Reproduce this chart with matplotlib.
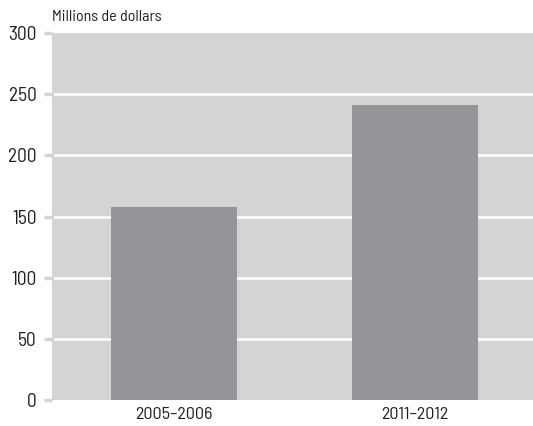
import matplotlib
matplotlib.use('Agg')
import matplotlib.pyplot as plt

periods = ['2005-2006', '2011-2012']
amounts = [158, 241]
yticks = [0, 50, 100, 150, 200, 250, 300]

plt.rcParams['font.family'] = ['Barlow Semi Condensed', 'DejaVu Sans']

BG = '#d3d4d6'
BAR = '#939598'
TXT = '#231f20'

fig = plt.figure(figsize=(5.33, 4.26), dpi=100)
ax = fig.add_axes([0.0976, 0.061, 0.9024, 0.8615])
ax.set_facecolor(BG)

ax.bar(range(len(periods)), amounts, width=0.525, color=BAR, zorder=3)

ax.set_xlim(-0.508, 1.492)
ax.set_ylim(0, 300)
ax.set_yticks(yticks)
ax.set_yticklabels([str(t) for t in yticks], fontsize=14)
ax.set_xticks(range(len(periods)))
ax.set_xticklabels([p.replace('-', '–') for p in periods], fontsize=13)

for t in yticks[1:-1]:
    ax.axhline(t, xmin=0.006, color='white', lw=1.8, zorder=1)

for s in ax.spines.values():
    s.set_visible(False)
ax.tick_params(axis='y', length=6, width=2.5, color=BG, pad=5, labelcolor=TXT)
ax.tick_params(axis='x', length=0, pad=5, labelcolor=TXT)

fig.text(0.0976, 0.943, 'Millions de dollars', fontsize=11.5, color=TXT, va='bottom', ha='left')

fig.savefig('out.png', dpi=100)
